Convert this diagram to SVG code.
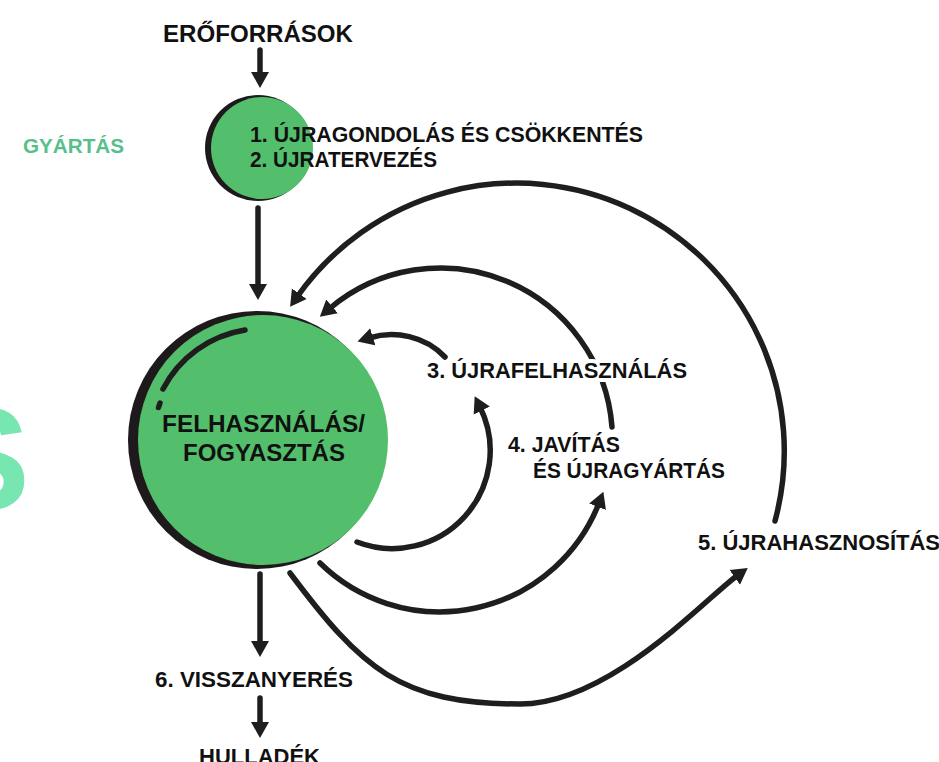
<svg xmlns="http://www.w3.org/2000/svg" width="939" height="762" viewBox="0 0 939 762">
<style>
  .t{font-family:"Liberation Sans",Arial,Helvetica,sans-serif;font-weight:700;fill:#111;}
  .c{fill:none;stroke:#1e1e1e;stroke-width:5.5;stroke-linecap:round;}
  .a{marker-end:url(#ah);}
  .shadow{fill:#1e1a1b;}
  .green{fill:#53bf6c;}
  .halo{stroke:#fff;stroke-width:8;stroke-linejoin:round;paint-order:stroke;}
</style>
<defs>
  <marker id="ah" markerUnits="userSpaceOnUse" markerWidth="18" markerHeight="20" viewBox="0 0 18 20" refX="4" refY="10" orient="auto">
    <path d="M0,1 L16,10 L0,19 Z" fill="#1e1e1e"/>
  </marker>
</defs>
<rect width="939" height="762" fill="#fff"/>

<text class="t" x="-68" y="510" font-size="147" style="fill:#78e6b0">S</text>

<g id="connectors">
  <path class="c a" d="M260,50 V76"/>
  <path class="c a" d="M258,208 V288"/>
  <path class="c a" d="M260,574 V645"/>
  <path class="c a" d="M260,698 V726"/>
  <path class="c a" d="M445,357 C425,336 395,330 369,338"/>
  <path class="c a" d="M357,542 A98,98 0 0 0 480,407"/>
  <path class="c a" d="M612,427 A172,172 0 0 0 329,309"/>
  <path class="c a" d="M320,563 A171,171 0 0 0 599,503"/>
  <path class="c a" d="M775,521 A268,268 0 0 0 297,297"/>
  <path class="c a" d="M290,573 C362,669 400,704 520,704 C610,704 705.6,598.2 738,575"/>
</g>

<g id="eroforrasok">
  <text class="t" x="163" y="42" font-size="23" textLength="190" lengthAdjust="spacingAndGlyphs">ERŐFORRÁSOK</text>
</g>

<g id="gyartas-label">
  <text class="t" x="23" y="153" font-size="20" textLength="101" lengthAdjust="spacingAndGlyphs" style="fill:#56c08b">GYÁRTÁS</text>
</g>

<g id="gyartas">
  <circle class="shadow" cx="258" cy="148" r="53"/>
  <circle class="green" cx="262" cy="148" r="51"/>
  <text class="t" x="250" y="142" font-size="21.5" textLength="393" lengthAdjust="spacingAndGlyphs">1. ÚJRAGONDOLÁS ÉS CSÖKKENTÉS</text>
  <text class="t" x="250" y="167" font-size="21.5" textLength="187" lengthAdjust="spacingAndGlyphs">2. ÚJRATERVEZÉS</text>
</g>

<g id="felhasznalas">
  <circle class="shadow" cx="257" cy="440" r="129"/>
  <circle class="green" cx="263" cy="440" r="125"/>
  <path class="c" d="M163,389 A112,112 0 0 1 245,330" stroke-width="6.5"/>
  <path class="c" d="M158.5,407.5 L160,403" stroke-width="7"/>
  <text class="t" x="162" y="432" font-size="24.5" textLength="203" lengthAdjust="spacingAndGlyphs">FELHASZNÁLÁS/</text>
  <text class="t" x="183" y="461" font-size="24.5" textLength="162" lengthAdjust="spacingAndGlyphs">FOGYASZTÁS</text>
</g>

<g id="ujrafelhasznalas">
  <text class="t halo" x="427" y="378" font-size="22" textLength="260" lengthAdjust="spacingAndGlyphs">3. ÚJRAFELHASZNÁLÁS</text>
</g>

<g id="javitas">
  <text class="t" x="508" y="452" font-size="22" textLength="112" lengthAdjust="spacingAndGlyphs">4. JAVÍTÁS</text>
  <text class="t" x="533" y="478" font-size="22" textLength="192" lengthAdjust="spacingAndGlyphs">ÉS ÚJRAGYÁRTÁS</text>
</g>

<g id="ujrahasznositas">
  <text class="t" x="698" y="550" font-size="22">5. ÚJRAHASZNOSÍTÁS</text>
</g>

<g id="visszanyeres">
  <text class="t" x="155" y="687" font-size="22" textLength="198" lengthAdjust="spacingAndGlyphs">6. VISSZANYERÉS</text>
</g>

<g id="hulladek">
  <text class="t" x="199" y="764" font-size="22" textLength="121" lengthAdjust="spacingAndGlyphs">HULLADÉK</text>
</g>
</svg>
